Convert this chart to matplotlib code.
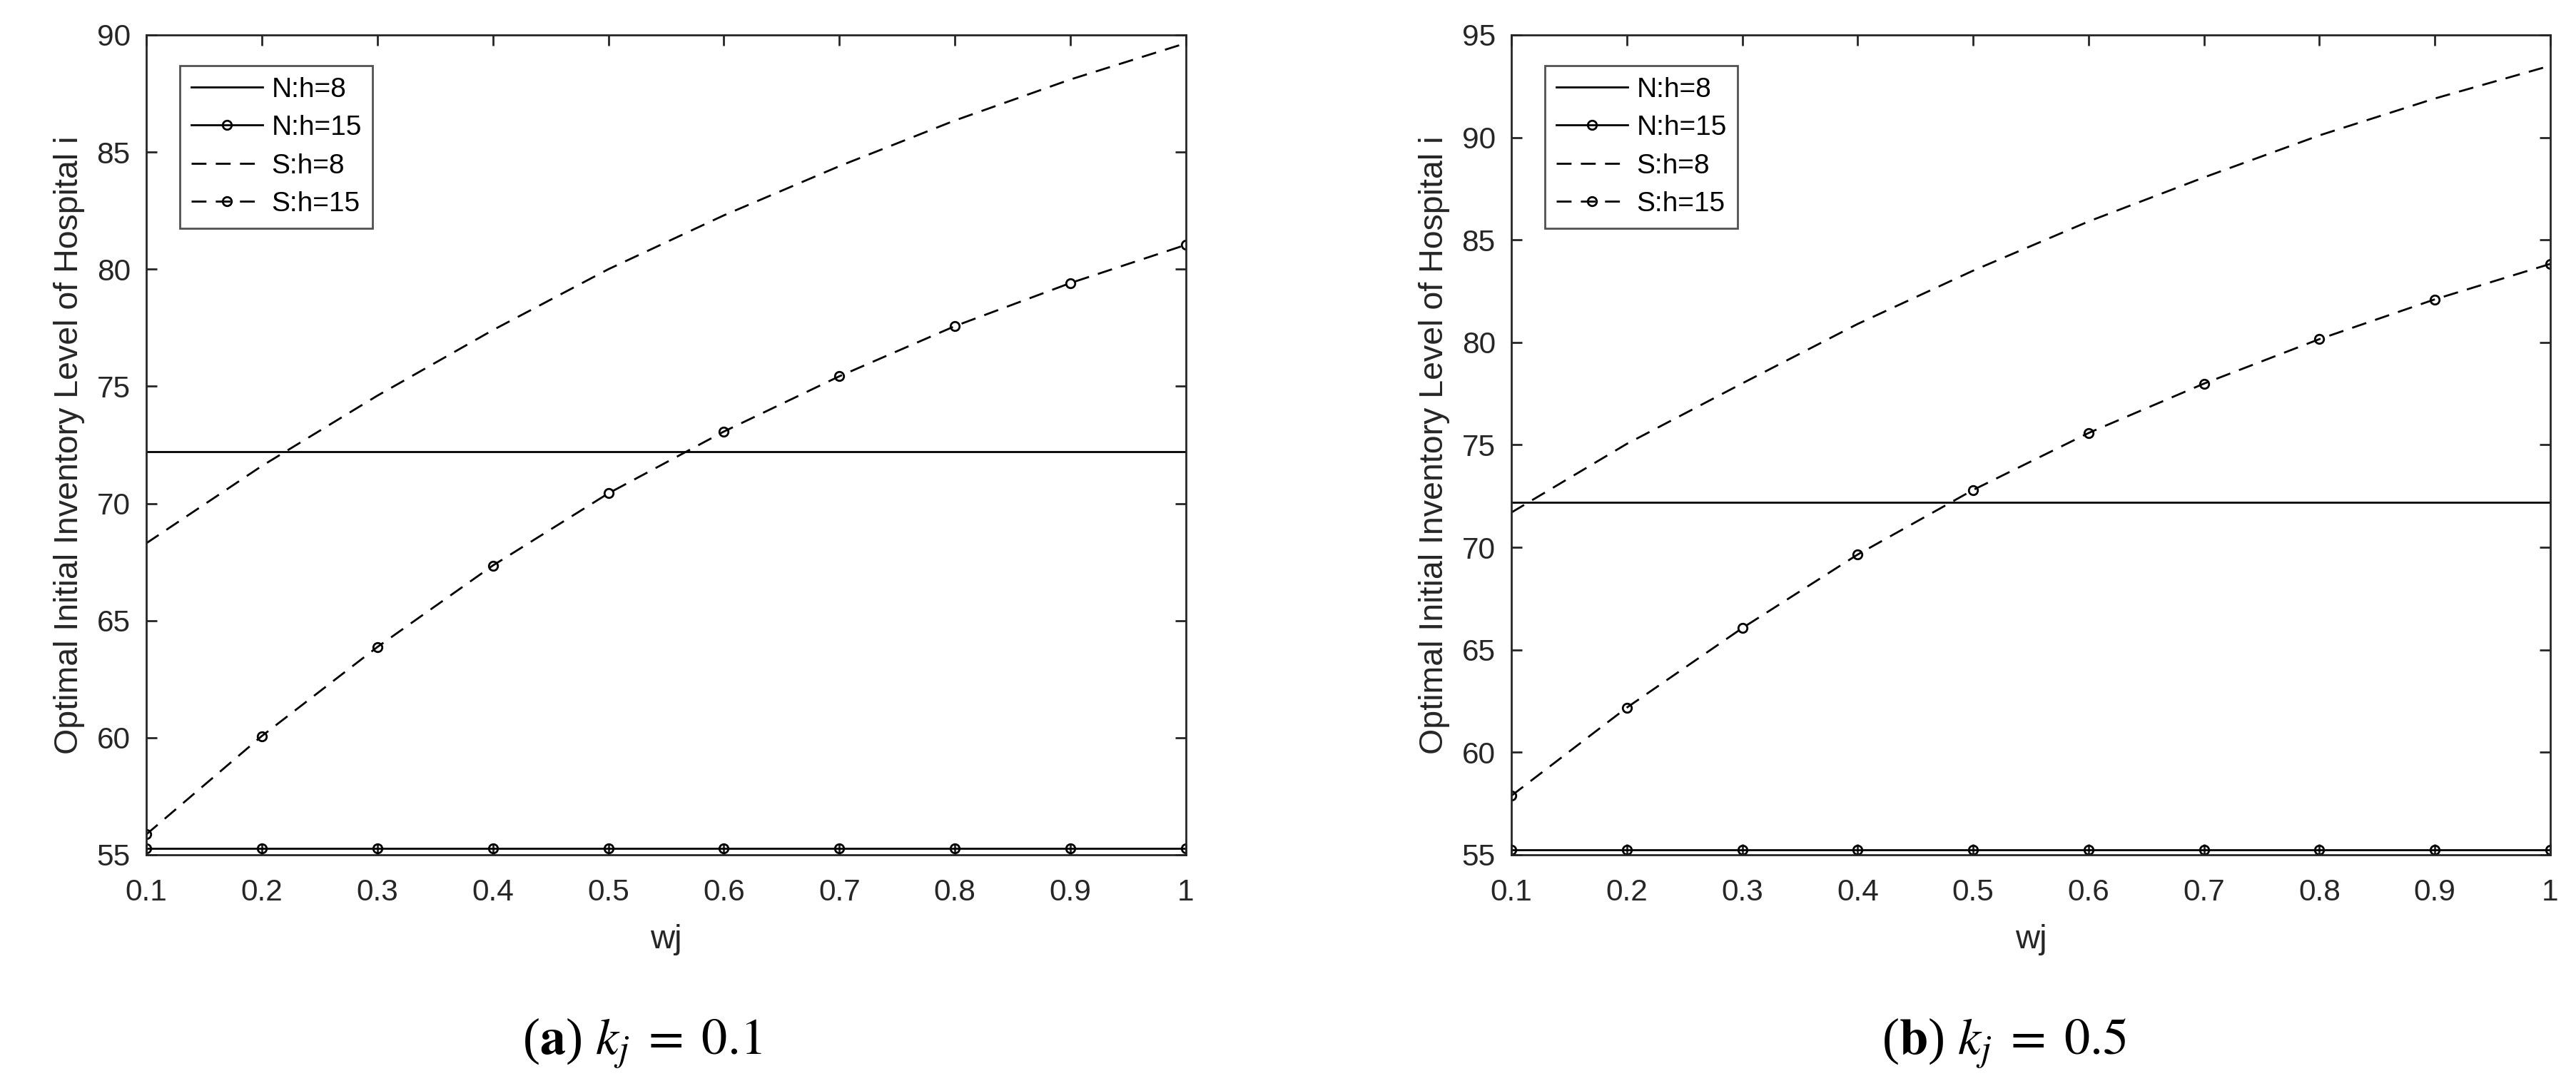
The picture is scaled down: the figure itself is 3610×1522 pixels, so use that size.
import matplotlib
matplotlib.use('Agg')
import matplotlib.pyplot as plt

# --- Data ---
wj = [0.1, 0.2, 0.3, 0.4, 0.5, 0.6, 0.7, 0.8, 0.9, 1.0]

# (a) k_j = 0.1
n_h8_a = [72.22, 72.22, 72.22, 72.22, 72.22, 72.22, 72.22, 72.22, 72.22, 72.22]
n_h15_a = [55.28, 55.28, 55.28, 55.28, 55.28, 55.28, 55.28, 55.28, 55.28, 55.28]
s_h8_a = [68.3, 71.6, 74.6, 77.4, 80.0, 82.3, 84.4, 86.35, 88.1, 89.65]
s_h15_a = [55.87, 60.07, 63.87, 67.35, 70.43, 73.07, 75.43, 77.57, 79.41, 81.04]

# (b) k_j = 0.5
n_h8_b = [72.21, 72.21, 72.21, 72.21, 72.21, 72.21, 72.21, 72.21, 72.21, 72.21]
n_h15_b = [55.26, 55.26, 55.26, 55.26, 55.26, 55.26, 55.26, 55.26, 55.26, 55.26]
s_h8_b = [71.7, 75.05, 78.0, 80.9, 83.5, 85.9, 88.05, 90.1, 91.9, 93.5]
s_h15_b = [57.88, 62.18, 66.06, 69.65, 72.80, 75.58, 77.99, 80.16, 82.10, 83.83]

yticks_a = [55, 60, 65, 70, 75, 80, 85, 90]
yticks_b = [55, 60, 65, 70, 75, 80, 85, 90, 95]
xticklabels = ['0.1', '0.2', '0.3', '0.4', '0.5', '0.6', '0.7', '0.8', '0.9', '1']

panels = [
    (n_h8_a, n_h15_a, s_h8_a, s_h15_a, (55, 90), yticks_a, r'($\mathbf{a}$) $k_j\;=\;0.1$'),
    (n_h8_b, n_h15_b, s_h8_b, s_h15_b, (55, 95), yticks_b, r'($\mathbf{b}$) $k_j\;=\;0.5$'),
]

plt.rcParams['font.family'] = ['Liberation Sans', 'DejaVu Sans']
plt.rcParams['mathtext.fontset'] = 'stix'

axis_col = '#262626'
dash = (0, (7.5, 4.7))

fig = plt.figure(figsize=(36.1, 15.22), dpi=100)
positions = [[0.05679, 0.21288, 0.40360, 0.75493],
             [0.58670, 0.21288, 0.40332, 0.75493]]
caption_x = [900 / 3610, 2808 / 3610]

for pos, cx, (n8, n15, s8, s15, ylim, yt, cap) in zip(positions, caption_x, panels):
    ax = fig.add_axes(pos)
    ax.plot(wj, n8, color='black', linestyle='-', linewidth=2, label='N:h=8')
    ax.plot(wj, n15, color='black', linestyle='-', linewidth=2, marker='o',
            markersize=9, markerfacecolor='none', markeredgewidth=2, label='N:h=15')
    ax.plot(wj, s8, color='black', linestyle=dash, linewidth=2, label='S:h=8')
    ax.plot(wj, s15, color='black', linestyle=dash, linewidth=2, marker='o',
            markersize=9, markerfacecolor='none', markeredgewidth=2, label='S:h=15')

    ax.set_xlim(0.1, 1.0)
    ax.set_ylim(*ylim)
    ax.set_xticks(wj)
    ax.set_xticklabels(xticklabels)
    ax.set_yticks(yt)
    ax.tick_params(axis='both', which='major', direction='in', length=11, width=2,
                   top=True, right=True, labelsize=30.5, colors=axis_col)
    ax.tick_params(axis='x', pad=24)
    ax.tick_params(axis='y', pad=16)
    for sp in ax.spines.values():
        sp.set_linewidth(2)
        sp.set_color(axis_col)

    ax.set_xlabel('wj', fontsize=34, color=axis_col, labelpad=17)
    ax.set_ylabel('Optimal Initial Inventory Level of Hospital i', fontsize=33.5,
                  color=axis_col, labelpad=12)

    leg = ax.legend(loc='upper left', bbox_to_anchor=(0.0323, 0.9626), borderaxespad=0,
                    fontsize=28, frameon=True, fancybox=False, handlelength=2.57,
                    handletextpad=0.33, labelspacing=0.45, borderpad=0.4)
    leg.get_frame().set_edgecolor(axis_col)
    leg.get_frame().set_linewidth(2)

    fig.text(cx, 1 - 1478 / 1522, cap, ha='center', va='baseline', fontsize=52,
             family='Liberation Serif')

fig.savefig('out.png', dpi=100)
